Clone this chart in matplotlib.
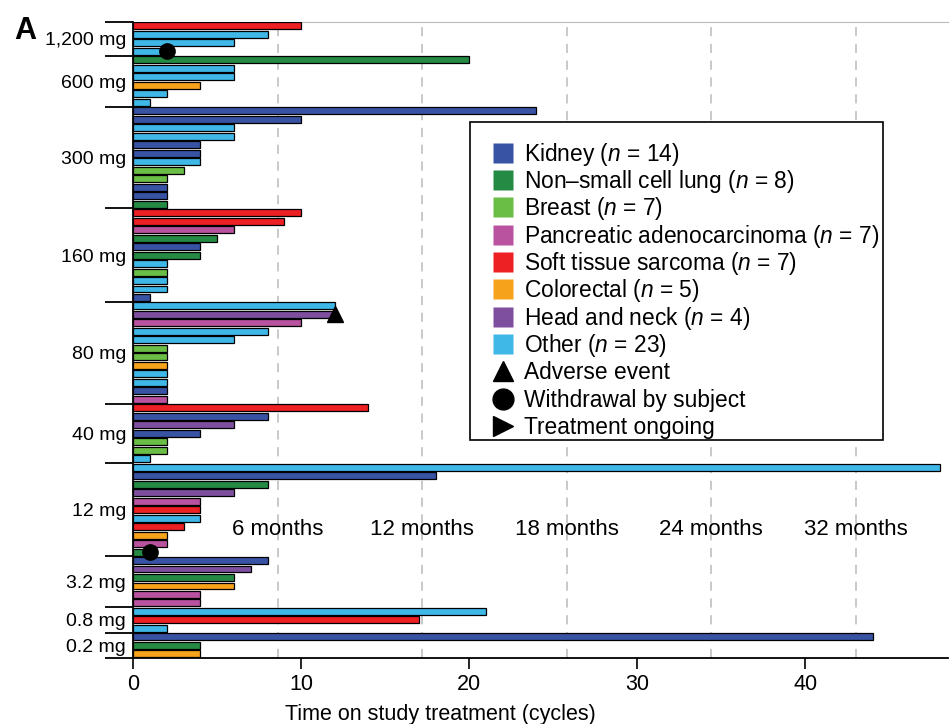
import numpy as np
import matplotlib
matplotlib.use("Agg")
import matplotlib.pyplot as plt
from matplotlib.patches import Rectangle

plt.rcParams['font.family'] = ['Liberation Sans', 'DejaVu Sans']
plt.rcParams['mathtext.fontset'] = 'custom'
plt.rcParams['mathtext.it'] = 'Liberation Sans:italic'
plt.rcParams['mathtext.rm'] = 'Liberation Sans'

# dose groups, top to bottom
dose_labels = ['1,200 mg', '600 mg', '300 mg', '160 mg', '80 mg', '40 mg',
               '12 mg', '3.2 mg', '0.8 mg', '0.2 mg']
group_sizes = [4, 6, 12, 11, 12, 7, 11, 6, 3, 3]

# tumour type of each patient (K kidney, N nsclc, B breast, P pancreatic,
# S sarcoma, C colorectal, H head & neck, O other)
tumor = ['S', 'O', 'O', 'O',
         'N', 'O', 'O', 'C', 'O', 'O',
         'K', 'K', 'O', 'O', 'K', 'K', 'O', 'B', 'B', 'K', 'K', 'N',
         'S', 'S', 'P', 'N', 'K', 'N', 'O', 'B', 'O', 'O', 'K',
         'O', 'H', 'P', 'O', 'O', 'B', 'B', 'C', 'O', 'O', 'K', 'P',
         'S', 'K', 'H', 'K', 'B', 'B', 'O',
         'O', 'K', 'N', 'H', 'P', 'S', 'O', 'S', 'C', 'P', 'N',
         'K', 'H', 'N', 'C', 'P', 'P',
         'O', 'S', 'O',
         'K', 'N', 'C']
cycles = [10, 8, 6, 1.6,
          20, 6, 6, 4, 2, 1,
          24, 10, 6, 6, 4, 4, 4, 3, 2, 2, 2, 2,
          10, 9, 6, 5, 4, 4, 2, 2, 2, 2, 1,
          12, 12, 10, 8, 6, 2, 2, 2, 2, 2, 2, 2,
          14, 8, 6, 4, 2, 2, 1,
          48, 18, 8, 6, 4, 4, 4, 3, 2, 2, 1,
          8, 7, 6, 6, 4, 4,
          21, 17, 2,
          44, 4, 4]

# events: (patient row, cycle)
withdrawal = [(3, 2), (62, 1)]
adverse = [(34, 12)]

type_names = {'K': 'Kidney', 'N': 'Non\u2013small cell lung', 'B': 'Breast',
              'P': 'Pancreatic adenocarcinoma', 'S': 'Soft tissue sarcoma',
              'C': 'Colorectal', 'H': 'Head and neck', 'O': 'Other'}
type_n = {'K': 14, 'N': 8, 'B': 7, 'P': 7, 'S': 7, 'C': 5, 'H': 4, 'O': 23}
type_colors = {'K': '#3953a4', 'N': '#258a44', 'B': '#6abd45', 'P': '#b9539f',
               'S': '#ed2024', 'C': '#f7a21b', 'H': '#7f4f9f', 'O': '#3fb8e8'}
type_order = ['K', 'N', 'B', 'P', 'S', 'C', 'H', 'O']

month_labels = ['6 months', '12 months', '18 months', '24 months', '32 months']
month_cycles = [8.6, 17.2, 25.8, 34.4, 43.0]

fig = plt.figure(figsize=(9.51, 7.24), dpi=100)
ax = fig.add_axes([0.14, 0.091, 0.857, 0.879])

rows = np.arange(len(cycles))
cols = [type_colors[t] for t in tumor]
ax.barh(rows, cycles, height=0.82, color=cols, edgecolor='black', linewidth=0.9, zorder=3)

for xm in month_cycles:
    ax.axvline(xm, color='#bbbbbb', linestyle=(0, (6, 5)), linewidth=1.1, zorder=1)
for lab, xm in zip(month_labels, month_cycles):
    ax.text(xm, 59.3, lab, ha='center', va='center', fontsize=16, zorder=4)

for r, c in withdrawal:
    ax.plot(c, r, 'o', color='black', markersize=11, zorder=5)
for r, c in adverse:
    ax.plot(c, r, '^', color='black', markersize=12, zorder=5)

# group boundaries & labels
bounds = np.concatenate([[0], np.cumsum(group_sizes)]) - 0.5
centers = (bounds[:-1] + bounds[1:]) / 2
ax.set_yticks(bounds)
ax.set_yticklabels([])
ax.set_yticks(centers, minor=True)
ax.set_yticklabels(dose_labels, minor=True, fontsize=14)
ax.tick_params(axis='y', which='major', length=20, width=1.3, direction='out')
ax.tick_params(axis='y', which='minor', length=0, pad=5)

ax.set_ylim(bounds[-1], bounds[0])
ax.set_xlim(0, 48.5)
ax.set_xticks([0, 10, 20, 30, 40])
ax.tick_params(axis='x', length=8, width=1.2, labelsize=15.5)
ax.set_xlabel('Time on study treatment (cycles)', fontsize=15.5)
ax.xaxis.set_label_coords(0.377, -0.072)

ax.spines['right'].set_visible(False)
ax.spines['top'].set_color('#bbbbbb')
ax.spines['left'].set_linewidth(1.3)
ax.spines['bottom'].set_linewidth(1.3)

# legend box drawn by hand so every row has the same pitch
entries = []
for t in type_order:
    entries.append(('s', type_colors[t], type_names[t] + ' ($n$ = %d)' % type_n[t]))
entries.append(('^', 'black', 'Adverse event'))
entries.append(('o', 'black', 'Withdrawal by subject'))
entries.append(('>', 'black', 'Treatment ongoing'))

ax.add_patch(Rectangle((0.413, 0.343), 0.507, 0.5, transform=ax.transAxes,
                       facecolor='white', edgecolor='black', linewidth=1.2, zorder=6))
row0 = 0.843 - 31 / 636
pitch = 27.3 / 636
for i, (mk, col, lab) in enumerate(entries):
    yy = row0 - i * pitch
    ax.plot(0.4535, yy, marker=mk, color=col, markersize=14 if mk == 's' else 15,
            markeredgecolor='none' if mk == 's' else col, transform=ax.transAxes,
            linestyle='none', zorder=7, clip_on=False)
    ax.text(0.48, yy - 8 / 636, lab, transform=ax.transAxes, fontsize=16.4,
            ha='left', va='baseline', zorder=7)

fig.text(0.015, 0.957, 'A', fontsize=22, fontweight='bold', va='center')

fig.savefig('out.png', dpi=100)
